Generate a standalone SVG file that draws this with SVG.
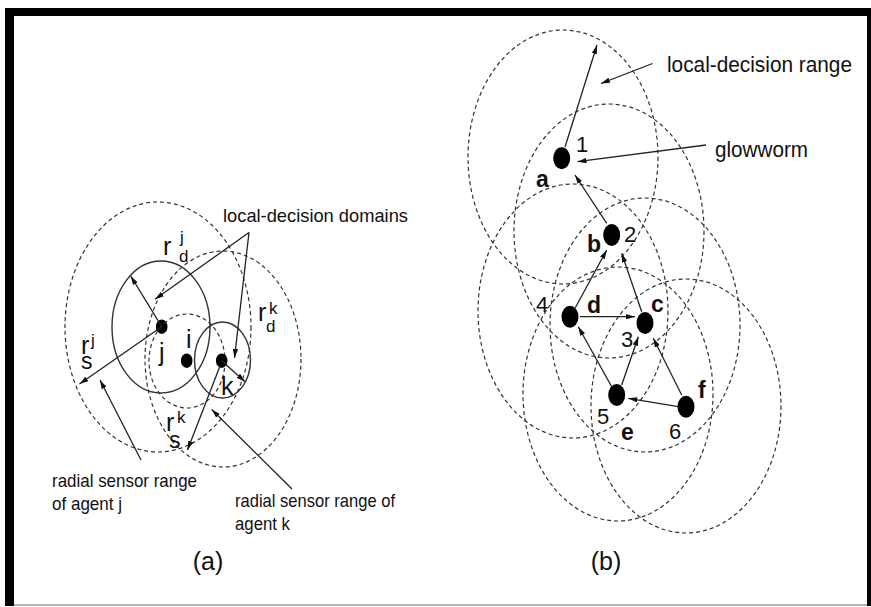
<svg xmlns="http://www.w3.org/2000/svg" width="871" height="607" viewBox="0 0 871 607">
<defs>
<style>
text{font-family:"Liberation Sans",Arial,sans-serif;fill:#111}
.lbl{font-size:19px}
.big{font-size:22px}
.var{font-size:25px}
.sub{font-size:17px}
.ss{font-size:23px}
.num{font-size:22px}
.bl{font-size:23px;font-weight:bold}
.dash{fill:none;stroke:#333;stroke-width:1.2;stroke-dasharray:4 3}
.solid{fill:none;stroke:#333;stroke-width:1.4}
.dot{fill:#000}
.con{stroke:#222;stroke-width:1.3;fill:none;marker-end:url(#ah)}
</style>
<marker id="ah" viewBox="0 0 10 6" refX="10" refY="3" markerWidth="9" markerHeight="5.5" markerUnits="userSpaceOnUse" orient="auto">
<path d="M0,0 L10,3 L0,6 z" fill="#111"/>
</marker>
</defs>
<rect x="0" y="0" width="871" height="607" fill="#fff"/>
<g id="frame">
<rect x="5" y="8" width="866" height="8" fill="#000"/>
<rect x="5" y="8" width="9" height="598" fill="#000"/>
<rect x="867" y="8" width="4" height="598" fill="#000"/>
<rect x="14" y="604" width="853" height="2" fill="#b4b4b4"/>
</g>
<!-- panel (a) -->
<g id="node-j">
<ellipse class="dash" cx="158" cy="327" rx="93" ry="125"/>
<ellipse class="solid" cx="161" cy="327" rx="49" ry="66"/>
<ellipse class="dot" cx="161.7" cy="326.7" rx="5.8" ry="7.2"/>
<text class="var" x="159" y="361">j</text>
</g>
<g id="node-i">
<ellipse class="dash" cx="187" cy="361" rx="38" ry="47"/>
<ellipse class="dot" cx="186.7" cy="360.7" rx="5.8" ry="7.2"/>
<text class="var" x="186" y="348">i</text>
</g>
<g id="node-k">
<ellipse class="dash" cx="223" cy="359" rx="78" ry="108"/>
<ellipse class="solid" cx="222.5" cy="360" rx="28" ry="38"/>
<ellipse class="dot" cx="221.7" cy="360.7" rx="5.8" ry="7.2"/>
<text class="var" x="221" y="395">k</text>
</g>
<g id="labels-a">
<text class="lbl" x="223" y="222" textLength="185" lengthAdjust="spacingAndGlyphs">local-decision domains</text>
<text class="var" x="163" y="255">r<tspan class="sub" x="180" y="243">j</tspan><tspan class="sub" x="179" y="262">d</tspan></text>
<text class="var" x="81" y="354">r<tspan class="sub" x="91" y="346">j</tspan><tspan class="ss" x="81" y="369">s</tspan></text>
<text class="var" x="258" y="321">r<tspan class="sub" x="269" y="314">k</tspan><tspan class="sub" x="266" y="332">d</tspan></text>
<text class="var" x="166" y="431">r<tspan class="sub" x="177" y="423">k</tspan><tspan class="ss" x="169" y="448">s</tspan></text>
<text class="lbl" x="52" y="487" textLength="145" lengthAdjust="spacingAndGlyphs">radial sensor range</text>
<text class="lbl" x="52" y="510" textLength="70" lengthAdjust="spacingAndGlyphs">of agent j</text>
<text class="lbl" x="235" y="507" textLength="160" lengthAdjust="spacingAndGlyphs">radial sensor range of</text>
<text class="lbl" x="235" y="530" textLength="55" lengthAdjust="spacingAndGlyphs">agent k</text>
<text class="var" x="208" y="570" text-anchor="middle">(a)</text>
</g>
<!-- panel (b) -->
<g id="node-1">
<ellipse class="dash" cx="563" cy="157" rx="95" ry="127"/>
<ellipse class="dot" cx="561.7" cy="158.3" rx="8.5" ry="11"/>
<text class="num" x="576" y="152">1</text>
<text class="bl" x="536" y="187">a</text>
</g>
<g id="node-2">
<ellipse class="dash" cx="609" cy="231" rx="95" ry="127"/>
<ellipse class="dot" cx="611.7" cy="235" rx="8.5" ry="11"/>
<text class="num" x="624" y="242">2</text>
<text class="bl" x="587" y="252">b</text>
</g>
<g id="node-3">
<ellipse class="dash" cx="645" cy="325" rx="95" ry="127"/>
<ellipse class="dot" cx="645" cy="323" rx="8.5" ry="11"/>
<text class="num" x="621" y="347">3</text>
<text class="bl" x="651" y="312">c</text>
</g>
<g id="node-4">
<ellipse class="dash" cx="573" cy="311" rx="95" ry="127"/>
<ellipse class="dot" cx="570" cy="316.7" rx="8.5" ry="11"/>
<text class="num" x="536" y="312">4</text>
<text class="bl" x="587" y="313">d</text>
</g>
<g id="node-5">
<ellipse class="dash" cx="618" cy="394" rx="95" ry="127"/>
<ellipse class="dot" cx="616.7" cy="395" rx="8.5" ry="11"/>
<text class="num" x="597" y="424">5</text>
<text class="bl" x="621" y="440">e</text>
</g>
<g id="node-6">
<ellipse class="dash" cx="686" cy="406" rx="95" ry="127"/>
<ellipse class="dot" cx="686" cy="406.7" rx="8.5" ry="11"/>
<text class="num" x="669" y="439">6</text>
<text class="bl" x="698" y="398">f</text>
</g>
<g id="labels-b">
<text class="big" x="667" y="72" textLength="185" lengthAdjust="spacingAndGlyphs">local-decision range</text>
<text class="big" x="715" y="157" textLength="93" lengthAdjust="spacingAndGlyphs">glowworm</text>
<text class="var" x="606" y="570" text-anchor="middle">(b)</text>
</g>
<g id="connectors">
<!-- panel (a) -->
<line class="con" x1="161.7" y1="326.7" x2="130.7" y2="276"/>
<line class="con" x1="161.7" y1="326.7" x2="79.5" y2="384"/>
<line class="con" x1="221.7" y1="360.7" x2="245" y2="381.7"/>
<line class="con" x1="220" y1="366" x2="187.5" y2="450"/>
<line class="con" x1="249" y1="232.5" x2="155" y2="299.3"/>
<line class="con" x1="249" y1="232.5" x2="234.5" y2="358"/>
<line class="con" x1="141" y1="460" x2="100" y2="380"/>
<line class="con" x1="292" y1="489" x2="211.7" y2="409.5"/>
<!-- panel (b) -->
<line class="con" x1="565" y1="147" x2="597" y2="45"/>
<line class="con" x1="652.5" y1="63.5" x2="601" y2="83.5"/>
<line class="con" x1="706" y1="145" x2="577.5" y2="161.7"/>
<line class="con" x1="606.7" y1="223.3" x2="575" y2="175"/>
<line class="con" x1="575" y1="308.3" x2="606.7" y2="250"/>
<line class="con" x1="641.7" y1="311.7" x2="621.7" y2="253.3"/>
<line class="con" x1="580" y1="316.7" x2="635" y2="316.7"/>
<line class="con" x1="611.7" y1="386.7" x2="578.3" y2="326.7"/>
<line class="con" x1="621.7" y1="385" x2="638.3" y2="336.7"/>
<line class="con" x1="681.7" y1="395" x2="653.3" y2="338.3"/>
<line class="con" x1="678.3" y1="406.7" x2="628.3" y2="398.3"/>
</g>
</svg>
